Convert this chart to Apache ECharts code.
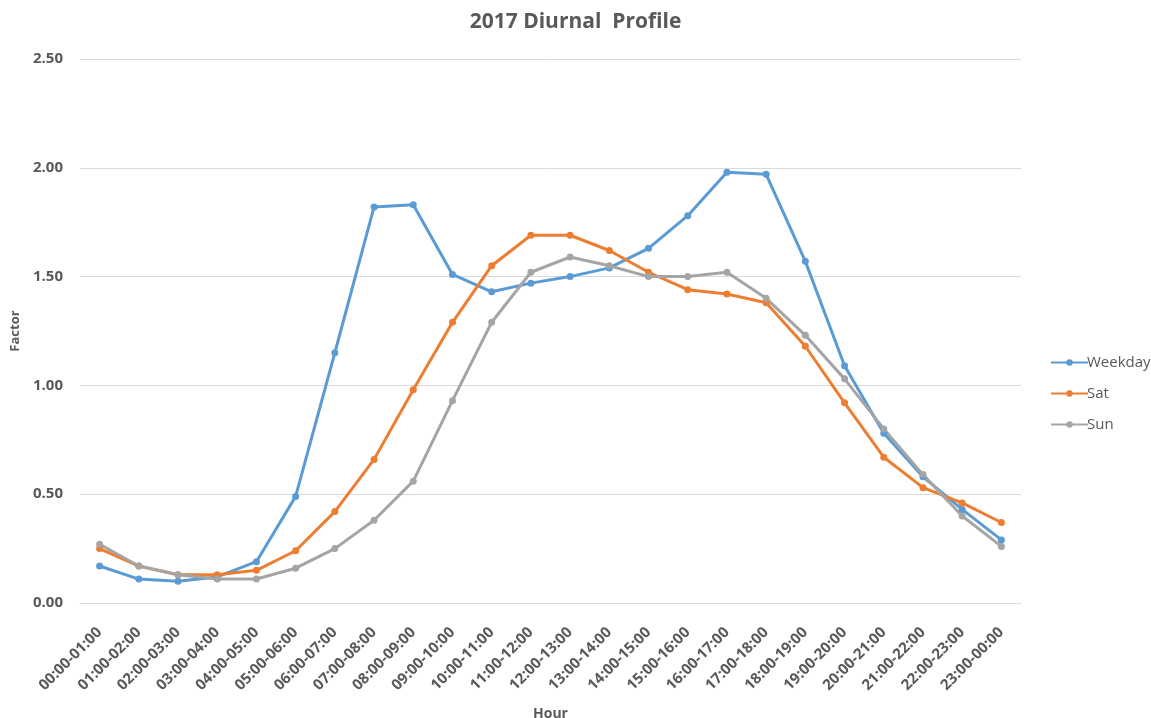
<!DOCTYPE html>
<html>
<head>
<meta charset="utf-8">
<script src="https://cdn.jsdelivr.net/npm/echarts@6/dist/echarts.min.js"></script>
<style>
  html, body { margin: 0; padding: 0; background: #fff; }
  #chart { width: 1151px; height: 718px; }
</style>
</head>
<body>
<div id="chart"></div>
<script>
// hour buckets
const hours = [
  "00:00-01:00", "01:00-02:00", "02:00-03:00", "03:00-04:00", "04:00-05:00", "05:00-06:00",
  "06:00-07:00", "07:00-08:00", "08:00-09:00", "09:00-10:00", "10:00-11:00", "11:00-12:00",
  "12:00-13:00", "13:00-14:00", "14:00-15:00", "15:00-16:00", "16:00-17:00", "17:00-18:00",
  "18:00-19:00", "19:00-20:00", "20:00-21:00", "21:00-22:00", "22:00-23:00", "23:00-00:00"
];

const weekday = [0.17, 0.11, 0.10, 0.12, 0.19, 0.49, 1.15, 1.82, 1.83, 1.51, 1.43, 1.47,
  1.50, 1.54, 1.63, 1.78, 1.98, 1.97, 1.57, 1.09, 0.78, 0.58, 0.43, 0.29];
const sat = [0.25, 0.17, 0.13, 0.13, 0.15, 0.24, 0.42, 0.66, 0.98, 1.29, 1.55, 1.69,
  1.69, 1.62, 1.52, 1.44, 1.42, 1.38, 1.18, 0.92, 0.67, 0.53, 0.46, 0.37];
const sun = [0.27, 0.17, 0.13, 0.11, 0.11, 0.16, 0.25, 0.38, 0.56, 0.93, 1.29, 1.52,
  1.59, 1.55, 1.50, 1.50, 1.52, 1.40, 1.23, 1.03, 0.80, 0.59, 0.40, 0.26];

const yTicks = { min: 0, max: 2.5, interval: 0.5 };

const textColor = "#595959";
const font = "'Open Sans', 'Liberation Sans', sans-serif";

const chart = echarts.init(document.getElementById("chart"));

function line(name, data, color) {
  return {
    name: name,
    type: "line",
    data: data,
    symbol: "circle",
    symbolSize: 7,
    lineStyle: { width: 3, color: color },
    itemStyle: { color: color },
    animation: false
  };
}

const option = {
  backgroundColor: "#fff",
  textStyle: { fontFamily: font },
  title: {
    text: "2017 Diurnal  Profile",
    left: "center",
    top: 7,
    textStyle: { fontSize: 21, fontWeight: "bold", color: textColor, fontFamily: font }
  },
  legend: {
    orient: "vertical",
    left: 1045,
    top: 350,
    itemGap: 16,
    itemWidth: 37,
    itemHeight: 8,
    textStyle: { fontSize: 15, color: textColor, fontFamily: font, padding: [0, 0, 0, -6] },
    data: ["Weekday", "Sat", "Sun"]
  },
  grid: { left: 80, right: 130, top: 59, bottom: 115, outerBoundsMode: "none" },
  xAxis: {
    type: "category",
    data: hours,
    name: "Hour",
    nameLocation: "middle",
    nameGap: 104,
    nameTextStyle: { fontSize: 14, fontWeight: "bold", color: textColor },
    axisLine: { lineStyle: { color: "#d9d9d9", width: 1 } },
    axisTick: { show: false },
    axisLabel: {
      rotate: 45,
      margin: 27,
      fontSize: 15,
      fontWeight: "bold",
      color: textColor,
      interval: 0
    }
  },
  yAxis: {
    type: "value",
    min: yTicks.min,
    max: yTicks.max,
    interval: yTicks.interval,
    name: "Factor",
    nameLocation: "middle",
    nameGap: 56,
    nameTextStyle: { fontSize: 13, fontWeight: "bold", color: textColor },
    axisLine: { show: false },
    axisTick: { show: false },
    splitLine: { lineStyle: { color: "#d9d9d9", width: 1 } },
    axisLabel: {
      margin: 17,
      fontSize: 15,
      fontWeight: "bold",
      color: textColor,
      formatter: v => v.toFixed(2)
    }
  },
  series: [
    line("Weekday", weekday, "#5b9bd5"),
    line("Sat", sat, "#ed7d31"),
    line("Sun", sun, "#a5a5a5")
  ]
};

chart.setOption(option);
</script>
</body>
</html>
